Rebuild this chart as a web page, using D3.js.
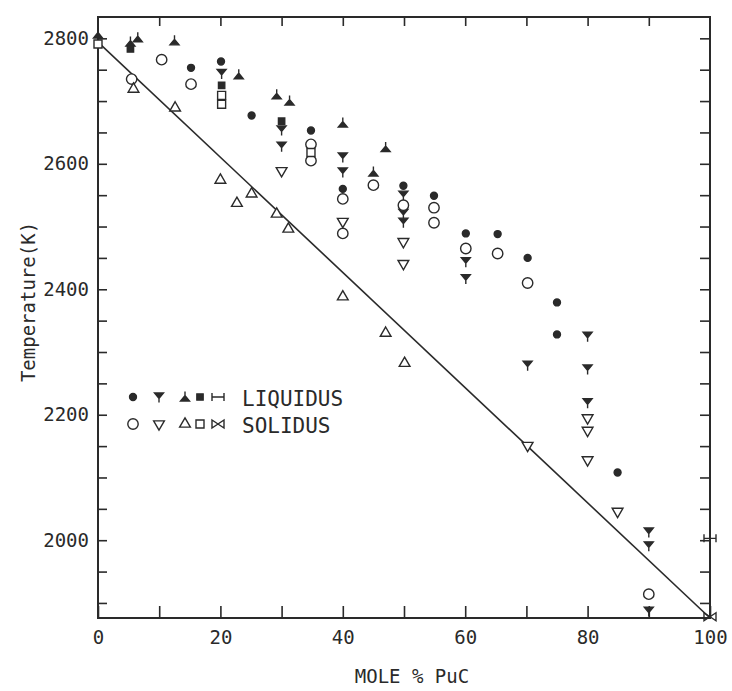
<!DOCTYPE html>
<html>
<head>
<meta charset="utf-8">
<script src="https://cdn.jsdelivr.net/npm/d3@7"></script>
<style>
  body { margin: 0; background: #fff; }
  svg { display: block; }
  text { font-family: "DejaVu Sans Mono", monospace; fill: #2a2a2a; }
</style>
</head>
<body>
<svg id="chart" width="732" height="691"></svg>
<script>
////////// data (x = mole % PuC, t = K) //////////
const xTickVals = d3.range(0, 101, 10);
const xTickLabels = [0, 20, 40, 60, 80, 100];
const yTickVals = d3.range(1900, 2801, 50);
const yTickLabels = [2000, 2200, 2400, 2600, 2800];

// liquidus
const liqDot = [[15.2, 2753], [20.1, 2763], [25.1, 2677], [34.8, 2653], [40, 2560], [49.9, 2565], [54.9, 2549],
  [60.1, 2489], [65.3, 2488], [70.2, 2450], [75, 2379], [75, 2328], [84.9, 2108]];
const liqWye = [[20.2, 2744], [30, 2654], [30, 2628], [40, 2611], [40, 2587], [49.9, 2550], [49.9, 2521],
  [49.9, 2507], [60.1, 2444], [60.1, 2417], [70.2, 2279], [80, 2325], [80, 2273], [80, 2219],
  [90, 2013], [90, 1991], [90, 1887]];
const liqTri = [[0, 2807], [6.5, 2801], [5.3, 2794], [12.5, 2796], [23, 2742], [29.2, 2710], [31.3, 2700],
  [40, 2665], [45, 2587], [47, 2626]];
const liqSquare = [[5.3, 2783], [20.2, 2725], [30, 2668]];
const liqBar = [[100, 2003]];

// solidus
const solCircle = [[5.5, 2735], [10.4, 2766], [15.2, 2727], [34.8, 2631], [34.8, 2605], [40, 2544], [40, 2489],
  [45, 2566], [49.9, 2534], [54.9, 2530], [54.9, 2506], [60.1, 2465], [65.3, 2457], [70.2, 2410], [90, 1914]];
const solTriDown = [[30, 2589], [40, 2508], [49.9, 2476], [49.9, 2441], [70.2, 2151], [80, 2195], [80, 2175],
  [80, 2128], [84.9, 2046]];
const solTriUp = [[5.8, 2719], [12.6, 2689], [20, 2574], [22.7, 2537], [25.1, 2552], [29.2, 2520], [31.1, 2496],
  [40, 2388], [47, 2330], [50.1, 2282]];
const solSquare = [[0, 2791], [20.2, 2709], [20.2, 2695], [34.8, 2618]];
const solBowtie = [[100, 1878]];

// straight solidus line drawn on the figure
const solidusLine = [[0, 2794], [100, 1876]];

////////// layout //////////
const plotLeft = 98, plotRight = 710, plotTop = 17, plotBottom = 618;
const ink = '#2a2a2a';
const font = '"DejaVu Sans Mono", monospace';

const svg = d3.select('#chart');
const x = d3.scaleLinear().domain([0, 100]).range([plotLeft, plotRight]);
const y = d3.scaleLinear().domain([1876, 2834]).range([plotBottom, plotTop]);

// marker shapes (filled "Y" = small down-triangle with a stem; ⅄ is the same turned over)
const wyePath = 'M-4.5,-4L4.5,-4L0,1.5ZM0,1.5V5.5';
const symbols = {
  dot:    { d: d3.symbol(d3.symbolCircle, 38)(), fill: ink, rot: 0 },
  wye:    { d: wyePath, fill: ink, rot: 0 },
  tri:    { d: wyePath, fill: ink, rot: 180 },
  sqFill: { d: d3.symbol(d3.symbolSquare, 40)(), fill: ink, rot: 0 },
  bar:    { d: 'M-6,-4V4M-6,0H6M6,-4V4', fill: 'none', rot: 0 },
  circle: { d: d3.symbol(d3.symbolCircle, 85)(), fill: 'white', rot: 0 },
  triDown:{ d: d3.symbol(d3.symbolTriangle, 50)(), fill: 'white', rot: 180 },
  triUp:  { d: d3.symbol(d3.symbolTriangle, 50)(), fill: 'white', rot: 0 },
  square: { d: d3.symbol(d3.symbolSquare, 64)(), fill: 'white', rot: 0 },
  bowtie: { d: 'M-6,-4L6,4V-4L-6,4Z', fill: 'none', rot: 0 }
};

const series = [
  { pts: liqDot, sym: 'dot' },
  { pts: liqWye, sym: 'wye' },
  { pts: liqTri, sym: 'tri' },
  { pts: liqSquare, sym: 'sqFill' },
  { pts: liqBar, sym: 'bar' },
  { pts: solCircle, sym: 'circle' },
  { pts: solTriDown, sym: 'triDown' },
  { pts: solTriUp, sym: 'triUp' },
  { pts: solSquare, sym: 'square' },
  { pts: solBowtie, sym: 'bowtie' }
];

////////// axes //////////
const styleAxis = g => {
  g.select('.domain').remove();
  g.selectAll('.tick line').attr('stroke', ink).attr('stroke-width', 1.6);
  g.selectAll('.tick text').style('font', `19px ${font}`).attr('fill', ink);
};

svg.append('g')
  .attr('transform', `translate(0,${plotBottom})`)
  .call(d3.axisBottom(x).tickValues(xTickVals).tickSize(-12).tickPadding(13)
    .tickFormat(d => xTickLabels.includes(d) ? d : ''))
  .call(styleAxis);

svg.append('g')
  .attr('transform', `translate(0,${plotTop})`)
  .call(d3.axisTop(x).tickValues(xTickVals.slice(1, -1)).tickSize(-9).tickFormat(''))
  .call(styleAxis);

svg.append('g')
  .attr('transform', `translate(${plotLeft},0)`)
  .call(d3.axisLeft(y).tickValues(yTickVals).tickSize(-9).tickPadding(9)
    .tickFormat(d => yTickLabels.includes(d) ? d : ''))
  .call(styleAxis);

svg.append('g')
  .attr('transform', `translate(${plotRight},0)`)
  .call(d3.axisRight(y).tickValues(yTickVals).tickSize(-10).tickFormat(''))
  .call(styleAxis);

// frame
svg.append('rect')
  .attr('x', plotLeft).attr('y', plotTop)
  .attr('width', plotRight - plotLeft).attr('height', plotBottom - plotTop)
  .attr('fill', 'none').attr('stroke', ink).attr('stroke-width', 2);

// axis titles
svg.append('text')
  .attr('x', (plotLeft + plotRight) / 2 + 8).attr('y', 683)
  .attr('text-anchor', 'middle')
  .style('font', `19px ${font}`)
  .text('MOLE % PuC');

svg.append('text')
  .attr('transform', 'translate(35,302) rotate(-90)')
  .attr('text-anchor', 'middle')
  .style('font', `19px ${font}`)
  .text('Temperature(K)');

////////// solidus line //////////
svg.append('path')
  .datum(solidusLine)
  .attr('fill', 'none')
  .attr('stroke', ink)
  .attr('stroke-width', 1.6)
  .attr('d', d3.line().x(d => x(d[0])).y(d => y(d[1])));

////////// data marks //////////
const marks = svg.append('g').attr('class', 'marks');
series.forEach(s => {
  const sym = symbols[s.sym];
  marks.selectAll(null)
    .data(s.pts)
    .enter().append('path')
      .attr('d', sym.d)
      .attr('transform', d => `translate(${x(d[0])},${y(d[1])}) rotate(${sym.rot})`)
      .attr('fill', sym.fill)
      .attr('stroke', ink)
      .attr('stroke-width', 1.4);
});

////////// legend //////////
const legendRows = [
  { label: 'LIQUIDUS', syms: ['dot', 'wye', 'tri', 'sqFill', 'bar'] },
  { label: 'SOLIDUS', syms: ['circle', 'triDown', 'triUp', 'square', 'bowtie'] }
];
const legendX = 133, legendY = 397, rowGap = 27;
const symOffsets = [0, 26, 52, 67, 85];

const legend = svg.append('g').attr('transform', `translate(${legendX},${legendY})`);
legendRows.forEach((row, i) => {
  const g = legend.append('g').attr('transform', `translate(0,${i * rowGap})`);
  row.syms.forEach((k, j) => {
    const sym = symbols[k];
    g.append('path')
      .attr('d', sym.d)
      .attr('transform', `translate(${symOffsets[j]},0) rotate(${sym.rot})`)
      .attr('fill', sym.fill)
      .attr('stroke', ink)
      .attr('stroke-width', 1.4);
  });
  g.append('text')
    .attr('x', 109).attr('y', 9)
    .style('font', `21px ${font}`)
    .text(row.label);
});
</script>
</body>
</html>
